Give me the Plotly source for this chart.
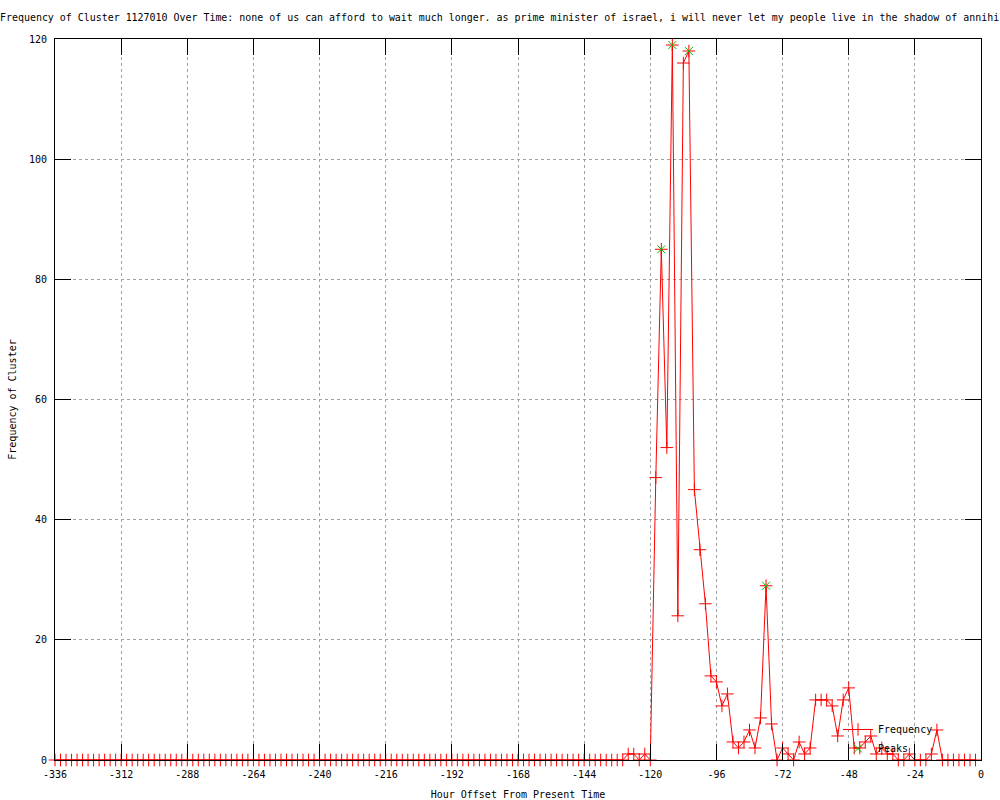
import plotly.graph_objects as go

# Hour offsets (every 2 hours, two weeks back)
hours = list(range(-336, 0, 2))

# Frequency of cluster per 2-hour bin (-336 .. -2)
freq_early = [
    0, 0, 0, 0, 0, 0, 0, 0, 0, 0, 0, 0, 0, 0, 0, 0, 0, 0, 0, 0, 0, 0, 0, 0, 0, 0,
    0, 0, 0, 0, 0, 0, 0, 0, 0, 0, 0, 0, 0, 0, 0, 0, 0, 0, 0, 0, 0, 0, 0, 0, 0, 0,
    0, 0, 0, 0, 0, 0, 0, 0, 0, 0, 0, 0, 0, 0, 0, 0, 0, 0, 0, 0, 0, 0, 0, 0, 0, 0,
    0, 0, 0, 0, 0, 0, 0, 0, 0, 0, 0, 0, 0, 0, 0, 0, 0, 0, 0, 0, 0, 0, 0, 0, 0, 0,
]  # -336 .. -130
freq_late = [
    1, 1, 0, 1, 0,          # -128 .. -120
    47, 85, 52, 119, 24,    # -118 .. -110
    116, 118, 45, 35, 26,   # -108 .. -100
    14, 13, 9, 11, 3,       # -98 .. -90
    2, 3, 5, 2, 7,          # -88 .. -80
    29, 6, 0, 2, 1,         # -78 .. -70
    0, 3, 1, 2, 10,         # -68 .. -60
    10, 10, 9, 4, 10,       # -58 .. -50
    12, 2, 2, 3, 4,         # -48 .. -40
    1, 2, 1, 1, 0,          # -38 .. -30
    0, 1, 0, 0, 0,          # -28 .. -20
    1, 5, 0, 0, 0,          # -18 .. -10
    0, 0, 0, 0,             # -8 .. -2
]
frequency = freq_early + freq_late

# Detected peaks
peak_hours = [-116, -112, -106, -78]
peak_values = [85, 119, 118, 29]

x_ticks = [-336, -312, -288, -264, -240, -216, -192, -168, -144, -120, -96, -72, -48, -24, 0]
y_ticks = [0, 20, 40, 60, 80, 100, 120]

title_text = ("Frequency of Cluster 1127010 Over Time: none of us can afford to wait much longer. "
              "as prime minister of israel, i will never let my people live in the shadow of annihilation.")

FONT = "DejaVu Sans Mono"

fig = go.Figure()
fig.add_trace(go.Scatter(
    x=hours, y=frequency, name="Frequency", mode="lines+markers",
    line=dict(color="#ff0000", width=1),
    marker=dict(symbol="cross-thin-open", size=9, line=dict(color="#ff0000", width=1), color="#ff0000"),
    cliponaxis=False,
))
fig.add_trace(go.Scatter(
    x=peak_hours, y=peak_values, name="Peaks", mode="markers",
    marker=dict(symbol="x-thin-open", size=8, line=dict(color="#00c000", width=1), color="#00c000"),
    cliponaxis=False,
))

axis_common = dict(
    showline=True, linecolor="black", linewidth=1, mirror="ticks",
    ticks="inside", ticklen=16, tickcolor="black", tickwidth=1,
    showgrid=True, gridcolor="#a0a0a0", griddash="dot", gridwidth=1,
    zeroline=False, tickfont=dict(family=FONT, size=10, color="black"),
    ticklabelstandoff=5,
)

fig.update_layout(
    width=1000, height=800,
    margin=dict(l=55, r=19, t=39, b=40, autoexpand=False),
    paper_bgcolor="white", plot_bgcolor="white",
    font=dict(family=FONT, size=10, color="black"),
    title=dict(text=title_text, x=0, xanchor="left", xref="container",
               y=1 - 18 / 800, yref="container", yanchor="middle",
               font=dict(family=FONT, size=9.95, color="black")),
    xaxis=dict(range=[-336, 0], tickvals=x_ticks, ticktext=[str(t) for t in x_ticks],
               title=dict(text="Hour Offset From Present Time", standoff=13,
                          font=dict(family=FONT, size=10)),
               **axis_common),
    yaxis=dict(range=[0, 120], tickvals=y_ticks,
               title=dict(text="Frequency of Cluster", standoff=10,
                          font=dict(family=FONT, size=10)),
               **axis_common),
    legend=dict(x=(838 - 55) / 926, xanchor="left", y=(760 - 715) / 721, yanchor="top",
                bgcolor="rgba(0,0,0,0)", font=dict(family=FONT, size=10),
                itemwidth=30, tracegroupgap=0),
    showlegend=True,
)

fig.write_html("out.html", post_script="document.body.style.margin='0px';",
               config={"displayModeBar": False})
